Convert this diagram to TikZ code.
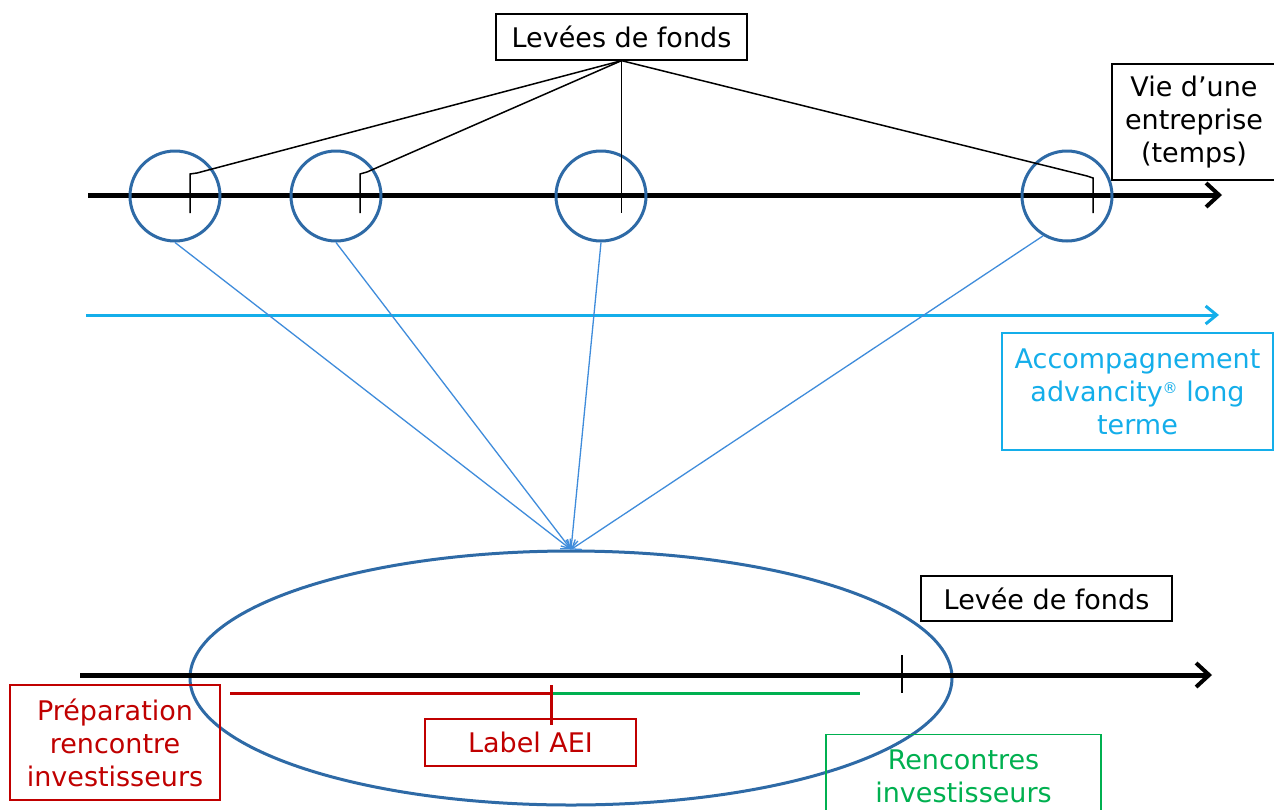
\documentclass[tikz,border=0pt]{standalone}
\usepackage{fontspec}
\setmainfont{DejaVu Sans}
\usepackage{tikz}
\usetikzlibrary{arrows.meta, shapes.geometric, positioning}
\definecolor{ringblue}{HTML}{2E6AA6}
\definecolor{linkblue}{HTML}{3F8CDB}
\definecolor{skyblue}{HTML}{14AEEA}
\definecolor{aeired}{HTML}{C00000}
\definecolor{meetgreen}{HTML}{00B050}
\tikzset{
  labelbox/.style={draw, line width=1.3pt, align=center, inner sep=0pt, font=\fontsize{27}{33}\selectfont},
  ring/.style={draw=ringblue, line width=3pt, circle, minimum size=90pt, inner sep=0pt},
  timeline/.style={line width=5pt, -{Straight Barb[length=13pt,width=24pt,line width=4pt]}},
  tickmark/.style={line width=1.5pt},
}

\begin{document}
\begin{tikzpicture}[x=1pt, y=-1pt]
  \path[use as bounding box, fill=white] (0,0) rectangle (1274,809);

  % vie d'une entreprise
  \node[labelbox, minimum width=251pt, minimum height=46pt] (fonds) at (621.5,37) {Levées de fonds};
  \node[labelbox, minimum width=164pt, minimum height=116pt] (vie) at (1194,122) {Vie d’une\\entreprise\\(temps)};
  \coordinate (vstart) at (88,195);
  \coordinate (vend) at (1222,195);
  \draw[timeline] (vstart) -- (vend);
  \foreach \n/\x in {1/175,2/336,3/601,4/1067}
    \node[ring] (c\n) at (\x,196) {};
  \coordinate (k1) at (190,213);
  \coordinate (k2) at (360,213);
  \coordinate (k3) at (621.5,213);
  \coordinate (k4) at (1093,213);
  \draw[tickmark] (fonds.south) -- (197,173) -- (190,174) -- (k1);
  \draw[tickmark] (fonds.south) -- (367,172) -- (360,174) -- (k2);
  \draw[tickmark] (fonds.south) -- (k3);
  \draw[tickmark] (fonds.south) -- (1087,176) -- (1093,178) -- (k4);

  % accompagnement
  \coordinate (astart) at (86,315);
  \coordinate (aend) at (1219,315);
  \draw[skyblue, line width=3pt, -{Straight Barb[length=11pt,width=18pt,line width=3pt]}] (astart) -- (aend);
  \node[labelbox, draw=skyblue, text=skyblue, minimum width=271pt, minimum height=117pt] (accomp) at (1137.5,391.5)
    {Accompagnement\\advancity{\fontsize{15}{15}\selectfont\raisebox{8pt}{®}} long\\terme};

  % zoom sur une levee
  \node[draw=ringblue, line width=3pt, ellipse, minimum width=762pt, minimum height=254pt, inner sep=0pt] (zoomed) at (571,678) {};
  \foreach \n/\a in {1/south,2/south,3/south,4/239}
    \draw[linkblue, line width=1.3pt, -{Straight Barb[length=8pt,width=12pt]}] (c\n.\a) -- (zoomed.north);

  \node[labelbox, minimum width=251pt, minimum height=45pt] (levee) at (1046.5,598.5) {Levée de fonds};
  \coordinate (bstart) at (80,675);
  \coordinate (bend) at (1212,675);
  \draw[timeline] (bstart) -- (bend);
  \coordinate (ltop) at (902,655);
  \coordinate (lbot) at (902,693);
  \draw[tickmark] (ltop) -- (lbot);

  \coordinate (pstart) at (230,693);
  \coordinate (mark) at (551,693);
  \coordinate (mend) at (860,693);
  \draw[aeired, line width=3pt] (pstart) -- (mark);
  \draw[meetgreen, line width=3pt] (mark) -- (mend);

  \node[labelbox, draw=aeired, text=aeired, minimum width=211pt, minimum height=47pt] (aei) at (530.5,742.5) {Label AEI};
  \draw[aeired, line width=3pt] ([yshift=8pt]mark) -- ([yshift=-7pt]mark |- aei.north);
  \node[labelbox, draw=aeired, text=aeired, minimum width=210pt, minimum height=115pt] (prep) at (115,742.5)
    {Préparation\\rencontre\\investisseurs};
  \node[labelbox, draw=meetgreen, minimum width=275pt, minimum height=112pt, anchor=north] (renc) at (963.5,734) {};
  \node[align=center, text=meetgreen, inner sep=0pt, font=\fontsize{27}{33}\selectfont] (renctext) at (963.5,776) {Rencontres\\investisseurs};
\end{tikzpicture}
\end{document}
